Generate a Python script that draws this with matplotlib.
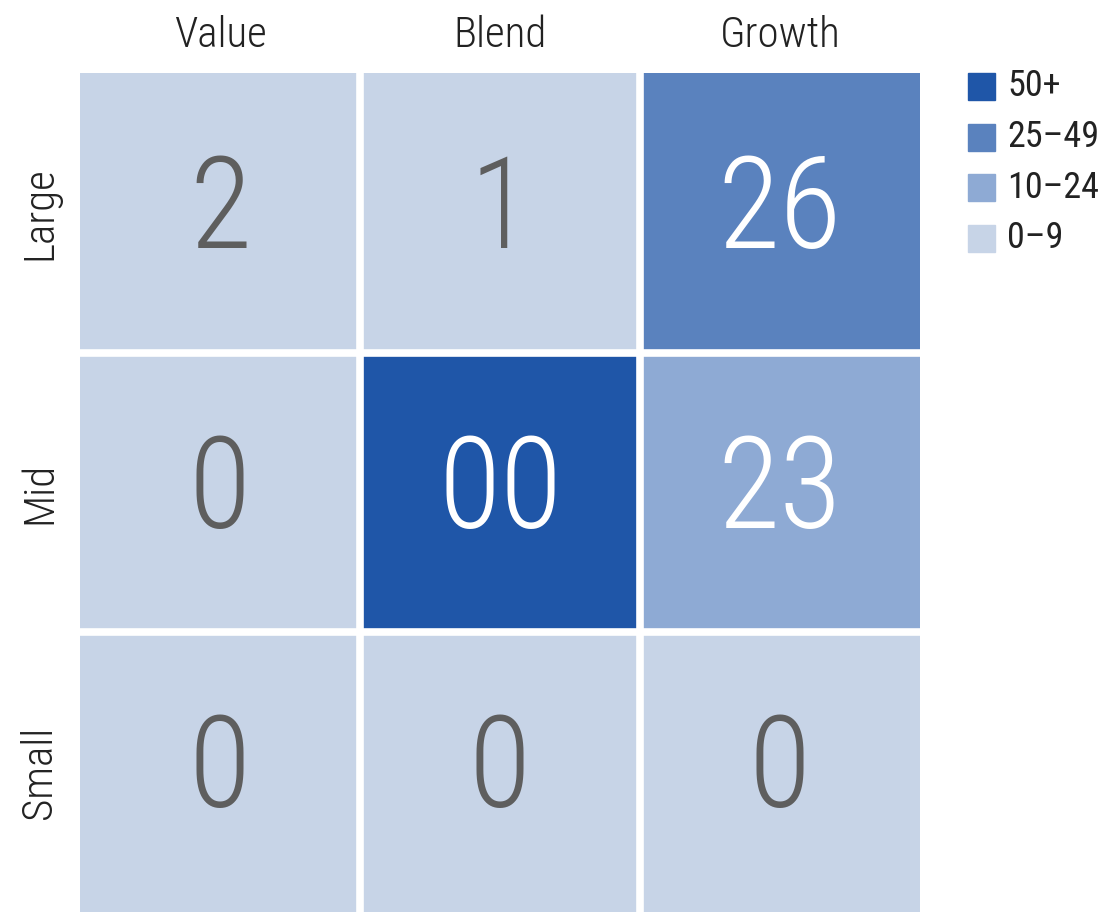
import matplotlib
matplotlib.use("Agg")
import matplotlib.pyplot as plt
import numpy as np
from matplotlib.colors import ListedColormap, BoundaryNorm
from matplotlib.patches import Rectangle

plt.rcParams['font.family'] = ['Roboto Condensed', 'Barlow Condensed', 'DejaVu Sans']

# style box data
columns = ['Value', 'Blend', 'Growth']
rows = ['Large', 'Mid', 'Small']
values = [[2, 1, 26],
          [0, 100, 23],
          [0, 0, 0]]
cell_labels = [['2', '1', '26'],
               ['0', '00', '23'],
               ['0', '0', '0']]
bins = [0, 10, 25, 50, 1000]
bin_labels = ['0\u20139', '10\u201324', '25\u201349', '50+']
bin_colors = ['#c7d4e7', '#8eaad4', '#5a82be', '#1f56a8']

fig = plt.figure(figsize=(11.10, 9.14), dpi=100)
W, H = 1110, 914
ax = fig.add_axes([80 / W, 2 / H, 840 / W, 839 / H])

cmap = ListedColormap(bin_colors)
norm = BoundaryNorm(bins, cmap.N)
data = np.array(values)
ax.imshow(data, cmap=cmap, norm=norm, aspect='auto',
          extent=(0, 3, 3, 0), interpolation='nearest')
for k in (1, 2):
    ax.axvline(k, color='white', linewidth=5.5)
    ax.axhline(k, color='white', linewidth=5.5)
ax.set_xlim(0, 3)
ax.set_ylim(3, 0)
for s in ax.spines.values():
    s.set_visible(False)
ax.set_xticks([])
ax.set_yticks([])

for i in range(3):
    for j in range(3):
        v = values[i][j]
        col = '#5e5e5e' if v < 10 else 'white'
        ax.text(j + 0.5, i + 0.5, cell_labels[i][j], ha='center', va='center',
                fontsize=92, color=col, fontweight='light')

for j, name in enumerate(columns):
    ax.text(j + 0.5, -0.135, name, ha='center', va='center',
            fontsize=31, color='#222222', fontweight='light')
for i, name in enumerate(rows):
    ax.text(-0.145, i + 0.5, name, ha='center', va='center', rotation=90,
            fontsize=31, color='#222222', fontweight='light')

# legend, top to bottom: 50+ first
for k, idx in enumerate(range(len(bin_labels) - 1, -1, -1)):
    top = 73 + k * 50.5
    fig.add_artist(Rectangle((968 / W, 1 - (top + 27) / H), 27 / W, 27 / H,
                             transform=fig.transFigure, color=bin_colors[idx]))
    fig.text(1007 / W, 1 - (top + 13.5) / H, bin_labels[idx], ha='left', va='center',
             fontsize=26, color='#222222')

fig.savefig('out.png', dpi=100)
